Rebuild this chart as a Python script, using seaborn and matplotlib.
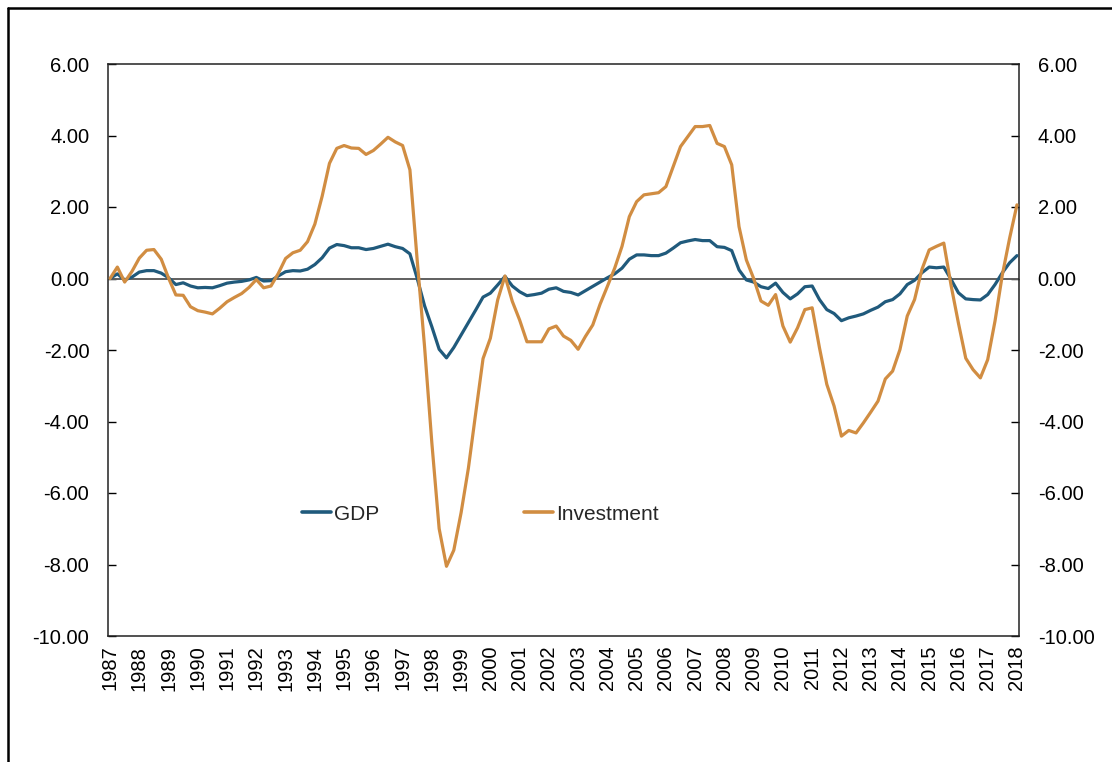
import numpy as np
import pandas as pd
import matplotlib
matplotlib.use("Agg")
import matplotlib.pyplot as plt
from matplotlib.lines import Line2D
import seaborn as sns

# Quarterly series, 1987Q1 .. 2018Q1
start_year = 1987
end_year = 2018

gdp = [0.0, 0.13, -0.04, 0.04, 0.18, 0.22, 0.22, 0.15, 0.02, -0.17,
       -0.12, -0.21, -0.26, -0.25, -0.26, -0.2, -0.13, -0.1, -0.08, -0.04,
       0.03, -0.07, -0.06, 0.07, 0.19, 0.22, 0.21, 0.26, 0.39, 0.58,
       0.85, 0.95, 0.92, 0.86, 0.86, 0.81, 0.84, 0.9, 0.96, 0.89,
       0.84, 0.69, 0.0, -0.76, -1.35, -1.98, -2.22, -1.93, -1.58, -1.23,
       -0.88, -0.52, -0.41, -0.18, 0.06, -0.21, -0.37, -0.48, -0.45, -0.41,
       -0.3, -0.26, -0.36, -0.39, -0.46, -0.34, -0.22, -0.1, 0.02, 0.13,
       0.29, 0.54, 0.66, 0.66, 0.64, 0.64, 0.71, 0.85, 1.0, 1.05,
       1.09, 1.06, 1.06, 0.89, 0.87, 0.78, 0.24, -0.04, -0.1, -0.23,
       -0.28, -0.13, -0.39, -0.57, -0.43, -0.23, -0.21, -0.59, -0.87, -0.98,
       -1.18, -1.1, -1.05, -0.99, -0.89, -0.8, -0.65, -0.59, -0.43, -0.17,
       -0.05, 0.16, 0.32, 0.3, 0.32, -0.03, -0.4, -0.57, -0.59, -0.6,
       -0.45, -0.17, 0.16, 0.44, 0.64]

investment = [0.0, 0.32, -0.1, 0.2, 0.57, 0.79, 0.81, 0.54, 0.01, -0.46,
              -0.47, -0.79, -0.9, -0.94, -0.99, -0.83, -0.65, -0.53, -0.42, -0.25,
              -0.03, -0.26, -0.21, 0.14, 0.56, 0.72, 0.79, 1.03, 1.52, 2.3,
              3.22, 3.64, 3.72, 3.65, 3.64, 3.47, 3.58, 3.76, 3.95, 3.82,
              3.72, 3.04, 0.5, -1.9, -4.6, -7.0, -8.05, -7.6, -6.55, -5.3,
              -3.76, -2.24, -1.67, -0.6, 0.07, -0.64, -1.16, -1.77, -1.77, -1.77,
              -1.41, -1.33, -1.61, -1.73, -1.98, -1.62, -1.3, -0.72, -0.22, 0.29,
              0.9, 1.73, 2.15, 2.34, 2.37, 2.4, 2.57, 3.13, 3.69, 3.97,
              4.25, 4.25, 4.28, 3.78, 3.69, 3.18, 1.45, 0.52, 0.0, -0.63,
              -0.75, -0.45, -1.33, -1.78, -1.38, -0.87, -0.82, -1.94, -2.96, -3.57,
              -4.41, -4.25, -4.32, -4.04, -3.74, -3.43, -2.81, -2.59, -1.99, -1.05,
              -0.59, 0.25, 0.8, 0.9, 0.99, -0.2, -1.25, -2.23, -2.55, -2.78,
              -2.27, -1.19, 0.1, 1.13, 2.06]

series_names = ["GDP", "Investment"]
series_colors = ["#205A7C", "#D18D42"]
year_labels = [str(y) for y in range(start_year, end_year + 1)]
y_ticks = [-10, -8, -6, -4, -2, 0, 2, 4, 6]

n = len(gdp)
period = start_year + np.arange(n) / 4.0
df = pd.concat([
    pd.DataFrame({"period": period, "value": gdp, "series": series_names[0]}),
    pd.DataFrame({"period": period, "value": investment, "series": series_names[1]}),
], ignore_index=True)

sns.set_theme(style="white")
plt.rcParams["font.family"] = ["Liberation Sans", "DejaVu Sans"]

fig = plt.figure(figsize=(11.12, 7.62), dpi=100)
ax = fig.add_axes([108 / 1112, 1 - 636 / 762, (1019 - 108) / 1112, (636 - 64) / 762])

ax.axhline(0, color="#5f5f5f", lw=1.4, zorder=1)
sns.lineplot(data=df, x="period", y="value", hue="series",
             palette=dict(zip(series_names, series_colors)),
             linewidth=2.3, ax=ax, legend=False, zorder=3)

ax.set_xlim(start_year - 0.07, end_year + 0.07)
ax.set_ylim(-10, 6)
ax.set_xlabel("")
ax.set_ylabel("")

ax.set_xticks(range(start_year, end_year + 1))
ax.set_xticklabels(year_labels, rotation=90, fontsize=14.5)
ax.set_yticks(y_ticks)
ax.set_yticklabels([f"{v:.2f}" for v in y_ticks], fontsize=14.5)
ax.tick_params(axis="x", length=0, pad=7, colors="black")
ax.tick_params(axis="y", direction="in", length=6, width=1.0, pad=13.5,
               left=True, right=True, labelleft=True, labelright=True,
               colors="black")
for s in ax.spines.values():
    s.set_visible(True)
    s.set_color("#222222")
    s.set_linewidth(1.1)

handles = [Line2D([0], [0], color=c, lw=2.6) for c in series_colors]
ax.legend(handles, series_names, loc="center left",
          bbox_to_anchor=((302 - 108) / 911, (636 - 514) / 572),
          ncol=2, frameon=False, fontsize=15, borderpad=0,
          handlelength=1.4, handletextpad=0.15, columnspacing=6.95,
          borderaxespad=0)

# outer frame fragments (top and left edges)
fig.add_artist(Line2D([8 / 1112, 8 / 1112], [0, 1 - 8 / 762],
                      transform=fig.transFigure, color="black", lw=1.8))
fig.add_artist(Line2D([8 / 1112, 1], [1 - 8 / 762, 1 - 8 / 762],
                      transform=fig.transFigure, color="black", lw=1.8))

fig.savefig("out.png", dpi=100)
